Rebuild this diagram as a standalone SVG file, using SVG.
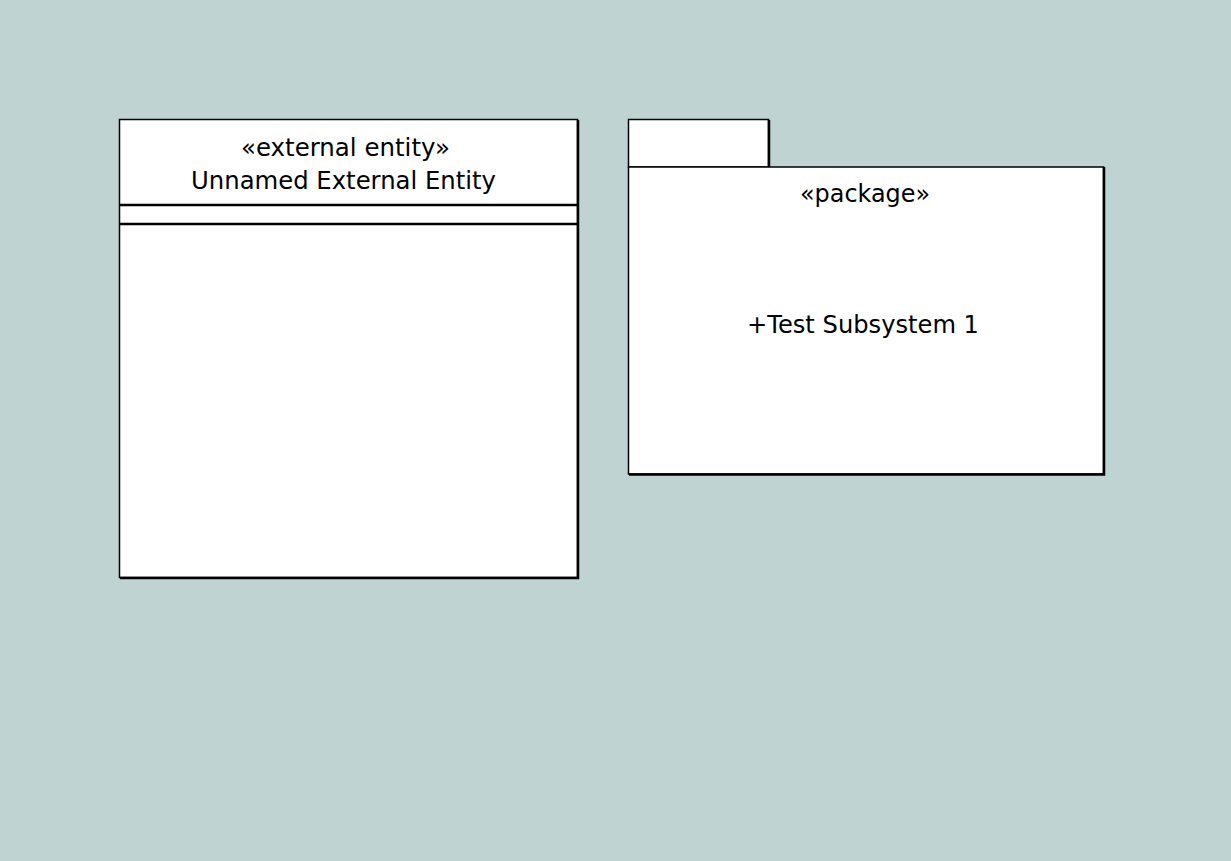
<svg xmlns="http://www.w3.org/2000/svg" width="1231" height="861" viewBox="0 0 1231 861">
<style>
.box{fill:#fff;stroke:#000;stroke-width:1.5}
.sh{stroke:#000;stroke-width:2.5;fill:none}
.dv{stroke:#000;stroke-width:2.5}
.t{font-family:"DejaVu Sans",Verdana,sans-serif;font-size:25px;fill:#000;text-anchor:middle}
</style>
<rect x="0" y="0" width="1231" height="861" fill="#bed3d2"/>
<g id="external-entity">
<rect class="box" x="119.5" y="119.5" width="458" height="458"/>
<path class="sh" d="M578 120 V578 H120"/>
<line class="dv" x1="119" y1="205" x2="578" y2="205"/>
<line class="dv" x1="119" y1="224" x2="578" y2="224"/>
<text class="t" x="345.5" y="156" textLength="209" lengthAdjust="spacingAndGlyphs">«external entity»</text>
<text class="t" x="343.5" y="189" textLength="305" lengthAdjust="spacingAndGlyphs">Unnamed External Entity</text>
</g>
<g id="package">
<rect class="box" x="628.5" y="119.5" width="140" height="47.5"/>
<path class="sh" d="M769 120 V167"/>
<rect class="box" x="628.5" y="167" width="475" height="307"/>
<path class="sh" d="M1104 167 V474.5 H629"/>
<text class="t" x="865" y="202" textLength="130" lengthAdjust="spacingAndGlyphs">«package»</text>
<text class="t" x="863" y="333" textLength="232" lengthAdjust="spacingAndGlyphs">+Test Subsystem 1</text>
</g>
<g id="connectors"/>
</svg>
